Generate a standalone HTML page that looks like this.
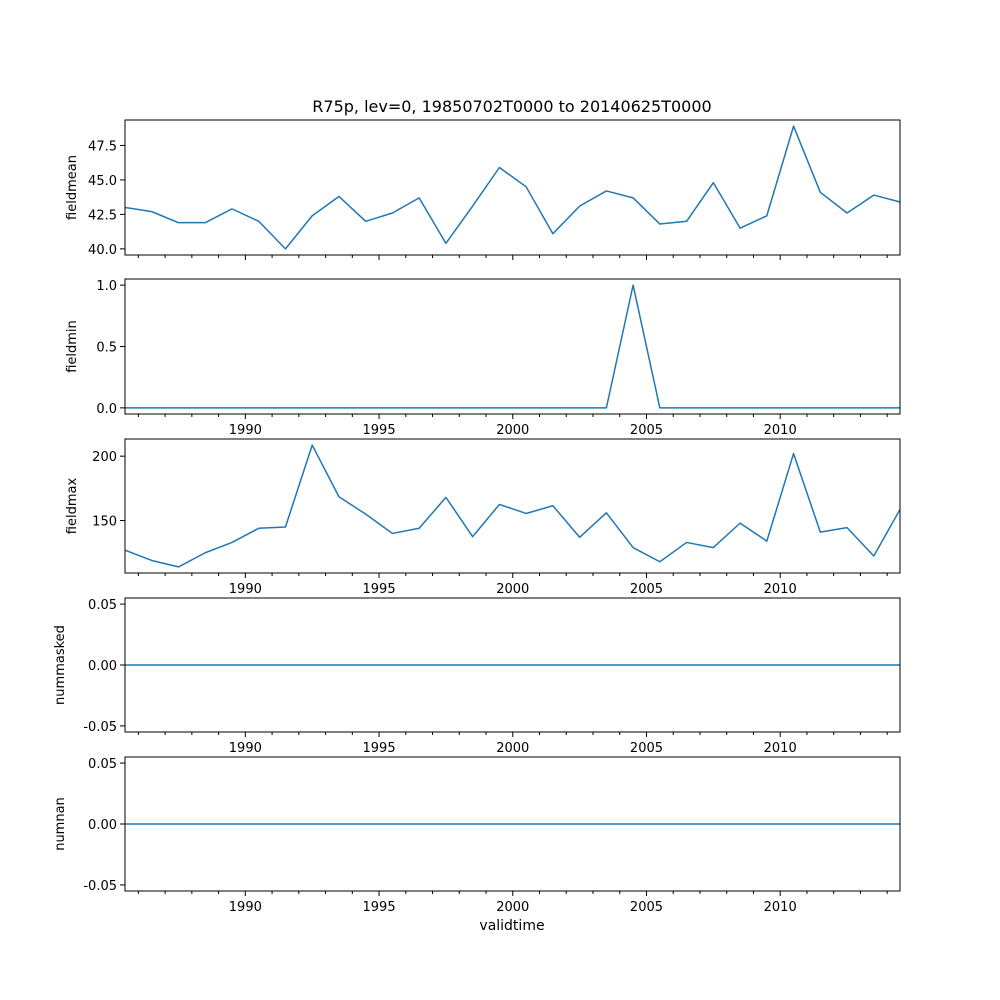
<!DOCTYPE html>
<html><head><meta charset="utf-8"><style>
html,body{margin:0;padding:0;background:#fff;}
svg{display:block;font-family:"DejaVu Sans","Liberation Sans",sans-serif;}
</style></head><body>
<svg id="chart" width="1000" height="1000" viewBox="0 0 1000 1000" xmlns="http://www.w3.org/2000/svg">
<rect width="1000" height="1000" fill="#fff"/>
<text x="512" y="112" font-size="16" text-anchor="middle">R75p, lev=0, 19850702T0000 to 20140625T0000</text>
<text x="512" y="930" font-size="14" text-anchor="middle">validtime</text>
</svg>
<script>
const years = [1985.5,1986.5,1987.5,1988.5,1989.5,1990.5,1991.5,1992.5,1993.5,1994.5,1995.5,1996.5,1997.5,1998.5,1999.5,2000.5,2001.5,2002.5,2003.5,2004.5,2005.5,2006.5,2007.5,2008.5,2009.5,2010.5,2011.5,2012.5,2013.5,2014.48];
const fieldmean = [43.0,42.7,41.9,41.9,42.9,42.0,40.0,42.4,43.8,42.0,42.6,43.7,40.4,43.1,45.9,44.5,41.1,43.1,44.2,43.7,41.8,42.0,44.8,41.5,42.4,48.9,44.1,42.6,43.9,43.4];
const fieldmin = [0,0,0,0,0,0,0,0,0,0,0,0,0,0,0,0,0,0,0,1,0,0,0,0,0,0,0,0,0,0];
const fieldmax = [127,119,114,125,133,144,145,208.6,168.5,155,140,144,168,137.5,162.5,155.5,161.5,137,156,129,118,133,129,148,134,202,141,144.5,122.5,158.6];
const nummasked = new Array(30).fill(0);
const numnan = new Array(30).fill(0);
const majorTicks = [1990,1995,2000,2005,2010];
const meanTicks = [40.0,42.5,45.0,47.5];
const minTicks = [0.0,0.5,1.0];
const maxTicks = [150,200];
const zeroTicks = [-0.05,0.00,0.05];

const NS="http://www.w3.org/2000/svg";
const svg=document.getElementById('chart');
const L=125,R=900,x0=1985.5,x1=2014.48;
const xs=v=>L+(v-x0)/(x1-x0)*(R-L);
function mk(tag,attrs,parent){const e=document.createElementNS(NS,tag);for(const k in attrs)e.setAttribute(k,attrs[k]);(parent||svg).appendChild(e);return e;}
const panels=[
 {name:'fieldmean',data:fieldmean,ticks:meanTicks,fmt:v=>v.toFixed(1),top:120,bot:255,labels:false,ylab:'fieldmean'},
 {name:'fieldmin',data:fieldmin,ticks:minTicks,fmt:v=>v.toFixed(1),top:279,bot:414,labels:true,ylab:'fieldmin'},
 {name:'fieldmax',data:fieldmax,ticks:maxTicks,fmt:v=>String(v),top:439,bot:573,labels:true,ylab:'fieldmax'},
 {name:'nummasked',data:nummasked,ticks:zeroTicks,fmt:v=>v.toFixed(2),top:598,bot:732,labels:true,ylab:'nummasked',zero:true},
 {name:'numnan',data:numnan,ticks:zeroTicks,fmt:v=>v.toFixed(2),top:757,bot:891,labels:true,ylab:'numnan',zero:true}
];
panels.forEach(p=>{
 let mn=Math.min(...p.data),mx=Math.max(...p.data);
 let lo,hi;
 if(mx===mn){lo=mn-0.055;hi=mx+0.055;}else{const pad=(mx-mn)*0.05;lo=mn-pad;hi=mx+pad;}
 const ys=v=>p.bot-(v-lo)/(hi-lo)*(p.bot-p.top);
 const g=mk('g',{});
 
 
 // minor ticks
 for(let y=1986;y<=2014;y++){
  const x=xs(y);const major=majorTicks.includes(y);
  const t=mk('line',{x1:x,x2:x,y1:p.bot,y2:p.bot+(major?5:3),stroke:'#000','stroke-width':1},g);
  
  
 }
 if(p.labels){majorTicks.forEach(y=>{const t=mk('text',{x:xs(y),y:p.bot+20,'font-size':13,'text-anchor':'middle'},g);t.textContent=y;
  
  });}
 p.ticks.forEach(v=>{const y=ys(v);
  const t=mk('line',{x1:L-5,x2:L,y1:y,y2:y,stroke:'#000','stroke-width':1},g);
  
  
  const tx=mk('text',{x:L-8,y:y+5,'font-size':13,'text-anchor':'end'},g);tx.textContent=p.fmt(v);
  
  
 });
 const yl=mk('text',{x:0,y:0,'font-size':13,'text-anchor':'middle',transform:`translate(${p.zero?64:76},${(p.top+p.bot)/2}) rotate(-90)`},g);
 yl.textContent=p.ylab;
 
 
 const pts=p.data.map((v,i)=>xs(years[i]).toFixed(2)+','+ys(v).toFixed(2)).join(' ');
 const pl=mk('polyline',{points:pts,fill:'none',stroke:'#1f77b4','stroke-width':1.5,'stroke-linejoin':'round'},g);
 
 
 const fr=mk('rect',{x:L,y:p.top,width:R-L,height:p.bot-p.top,fill:'none',stroke:'#000','stroke-width':1},g);
 
 
});
</script>
</body></html>
